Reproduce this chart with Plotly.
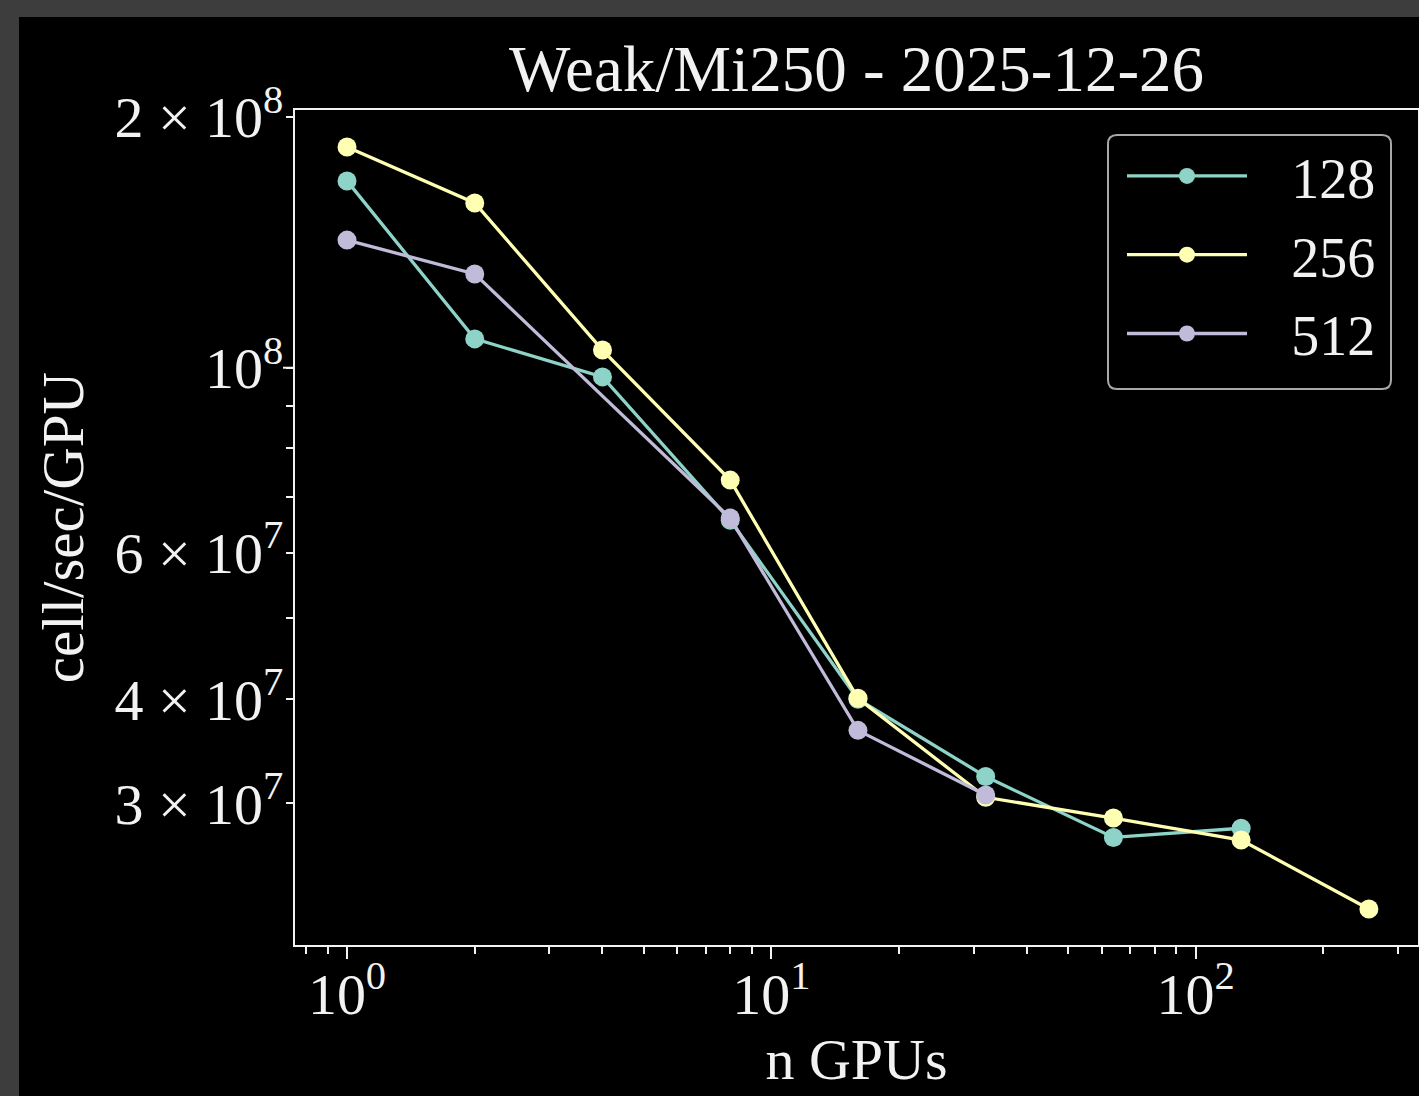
import plotly.graph_objects as go

# ---- data ----
gpus_128 = [1, 2, 4, 8, 16, 32, 64, 128]
perf_128 = [1.676e8, 1.083e8, 9.75e7, 6.56e7, 4.0e7, 3.23e7, 2.73e7, 2.80e7]

gpus_256 = [1, 2, 4, 8, 16, 32, 64, 128, 256]
perf_256 = [1.841e8, 1.577e8, 1.05e8, 7.33e7, 4.01e7, 3.05e7, 2.88e7, 2.71e7, 2.24e7]

gpus_512 = [1, 2, 8, 16, 32]
perf_512 = [1.423e8, 1.296e8, 6.6e7, 3.67e7, 3.07e7]

series_names = ["128", "256", "512"]
colors = ["#8dd3c7", "#feffb3", "#bfbbd9"]

x_major = [1, 10, 100]
x_major_text = ["10<sup>0</sup>", "10<sup>1</sup>", "10<sup>2</sup>"]
x_minor = [0.8, 0.9, 2, 3, 4, 5, 6, 7, 8, 9, 20, 30, 40, 50, 60, 70, 80, 90, 200, 300]

y_labeled = [3e7, 4e7, 6e7, 1e8, 2e8]
y_labeled_text = ["3 × 10<sup>7</sup>", "4 × 10<sup>7</sup>", "6 × 10<sup>7</sup>",
                  "10<sup>8</sup>", "2 × 10<sup>8</sup>"]
y_minor = [5e7, 7e7, 8e7, 9e7]
y_major_long = 1e8

FONT = "Liberation Serif, DejaVu Serif, serif"
TXT = "#f2f2f2"
FRAME = "#3d3d3d"
PAD = "\u00a0\u00a0\u2009"

fig = go.Figure()
for xs, ys, name, c in [(gpus_128, perf_128, series_names[0], colors[0]),
                        (gpus_256, perf_256, series_names[1], colors[1]),
                        (gpus_512, perf_512, series_names[2], colors[2])]:
    fig.add_trace(go.Scatter(x=xs, y=ys, name=PAD + name,
                             legendgroup=name, mode="lines+markers",
                             line=dict(color=c, width=3.3),
                             marker=dict(color=c, size=19)))

# plot area in pixels
W, H = 1419, 1096
L, R, T, B = 295, 1418, 110, 945
pw, ph = R - L, B - T

def px(xp):
    return (xp - L) / pw

def py(yp):
    return (B - yp) / ph

# rounded legend frame (pixel box -> paper coords)
lx0, lx1, ly0, ly1, rad = 1108, 1391, 135, 389, 9
def rounded_path(x0, x1, y0, y1, r):
    X0, X1 = px(x0), px(x1)
    Y0, Y1 = py(y1), py(y0)  # bottom, top
    rx, ry = r / pw, r / ph
    return (f"M{X0+rx},{Y1} L{X1-rx},{Y1} Q{X1},{Y1} {X1},{Y1-ry} "
            f"L{X1},{Y0+ry} Q{X1},{Y0} {X1-rx},{Y0} "
            f"L{X0+rx},{Y0} Q{X0},{Y0} {X0},{Y0+ry} "
            f"L{X0},{Y1-ry} Q{X0},{Y1} {X0+rx},{Y1} Z")

shapes = [
    # black figure area inside gray frame
    dict(type="rect", xref="paper", yref="paper", x0=px(19), x1=px(1430),
         y0=py(1110), y1=py(17), fillcolor="black", line=dict(width=0), layer="below"),
    # longer major tick at 10^8
    dict(type="line", xref="paper", yref="y", x0=px(283), x1=0, y0=y_major_long, y1=y_major_long,
         line=dict(color=TXT, width=2)),
    # legend frame
    dict(type="path", xref="paper", yref="paper", path=rounded_path(lx0, lx1, ly0, ly1, rad),
         fillcolor="black", line=dict(color="#a8a8a8", width=2), layer="above"),
]

fig.update_layout(
    width=W, height=H,
    paper_bgcolor=FRAME, plot_bgcolor="black",
    margin=dict(l=L, r=W - R, t=T, b=H - B, autoexpand=False),
    font=dict(family=FONT, color=TXT, size=56),
    title=dict(text="Weak/Mi250 - 2025-12-26", x=0.5, xref="paper", xanchor="center",
               y=1 - 68 / H, yref="container", yanchor="middle",
               font=dict(size=65, family=FONT, color=TXT)),
    shapes=shapes,
    legend=dict(x=px(1122), y=py(133), xanchor="left", yanchor="top",
                bgcolor="rgba(0,0,0,0)", borderwidth=0,
                font=dict(size=56, family=FONT, color=TXT), itemwidth=120,
                tracegroupgap=3),
    showlegend=True,
)

fig.update_xaxes(type="log", range=[-0.1226, 2.524],
                 tickmode="array", tickvals=x_major, ticktext=x_major_text,
                 ticks="outside", ticklen=12, tickwidth=2, tickcolor=TXT,
                 ticklabelstandoff=-15,
                 minor=dict(tickmode="array", tickvals=x_minor, ticks="outside",
                            ticklen=7, tickwidth=2, tickcolor=TXT, showgrid=False),
                 showgrid=False, zeroline=False,
                 showline=True, linecolor=TXT, linewidth=2, mirror=True,
                 tickfont=dict(size=58, family=FONT, color=TXT),
                 title=dict(text="n GPUs", standoff=8, font=dict(size=58, family=FONT, color=TXT)),
                 automargin=False)

fig.update_yaxes(type="log", range=[7.307, 8.3094],
                 tickmode="array", tickvals=y_labeled, ticktext=y_labeled_text,
                 ticks="outside", ticklen=7, tickwidth=2, tickcolor=TXT,
                 ticklabelstandoff=-9,
                 minor=dict(tickmode="array", tickvals=y_minor, ticks="outside",
                            ticklen=7, tickwidth=2, tickcolor=TXT, showgrid=False),
                 showgrid=False, zeroline=False,
                 showline=True, linecolor=TXT, linewidth=2, mirror=True,
                 tickfont=dict(size=58, family=FONT, color=TXT),
                 title=dict(text="cell/sec/GPU", standoff=12, font=dict(size=59, family=FONT, color=TXT)),
                 automargin=False)

fig.write_html(
    "out.html",
    config={"displayModeBar": False},
    post_script=("document.body.style.margin='0px';"
                 "document.body.style.backgroundColor='" + FRAME + "';"
                 "document.body.style.overflow='hidden';"),
)
